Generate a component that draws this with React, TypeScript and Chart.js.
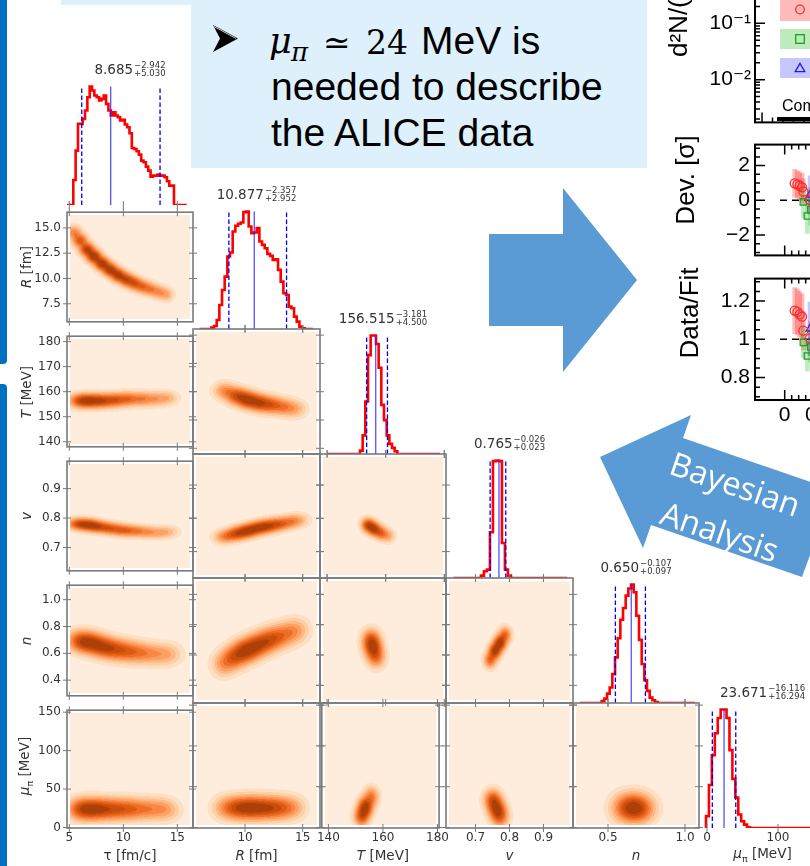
import React, { useEffect, useRef } from "react";
import { Chart, registerables } from "chart.js";

Chart.register(...registerables);

/* ===================== DATA ===================== */

// corner plot: axis ranges in data units (columns = x, rows = y)
const tauXRange = [4.787, 16.45];
const rXRange = [5.49, 16.5];
const tXRange = [137.58, 180.58];
const vXRange = [0.6132, 0.9868];
const nXRange = [0.2727, 1.091];
const muXRange = [-11.27, 167.6];
const rYRange = [5.72, 16.55];
const tYRange = [137.99, 182.16];
const vYRange = [0.6207, 0.9931];
const nYRange = [0.2832, 1.108];
const muYRange = [-0.61, 152.6];

// tick values / labels
const tauXTicks = [5, 10, 15];
const tauXLabels = ["5", "10", "15"];
const rXTicks = [10, 15];
const rXLabels = ["10", "15"];
const rYTicks = [7.5, 10, 12.5, 15];
const rYLabels = ["7.5", "10.0", "12.5", "15.0"];
const tXTicks = [140, 160, 180];
const tXLabels = ["140", "160", "180"];
const tYTicks = [140, 150, 160, 170, 180];
const tYLabels = ["140", "150", "160", "170", "180"];
const vTicks = [0.7, 0.8, 0.9];
const vLabels = ["0.7", "0.8", "0.9"];
const nXTicks = [0.5, 1.0];
const nXLabels = ["0.5", "1.0"];
const nYTicks = [0.4, 0.6, 0.8, 1.0];
const nYLabels = ["0.4", "0.6", "0.8", "1.0"];
const muXTicks = [0, 100];
const muXLabels = ["0", "100"];
const muYTicks = [0, 50, 100, 150];
const muYLabels = ["0", "50", "100", "150"];

// 1D posteriors: [first bin edge, bin width], counts, extent of the flat line, [lower, median, upper]
const tauBins = [5.37, 0.2167];
const tauCounts = [75, 163, 243, 243, 258, 283, 323, 355, 343, 328, 323, 313, 318, 328, 303, 283, 268, 278, 268, 263, 253, 255, 241, 233, 215, 171, 168, 161, 151, 133, 128, 115, 103, 85, 88, 88, 91, 88, 88, 83, 71, 58, 58];
const tauSpan = [4.79, 15.87];
const tauQ = [6.15, 8.83, 13.4];

const rBins = [7.08, 0.2313];
const rCounts = [4, 9, 27, 72, 117, 157, 217, 229, 292, 309, 315, 319, 350, 352, 307, 287, 289, 302, 262, 252, 242, 225, 219, 207, 209, 177, 142, 107, 102, 67, 62, 37, 22, 7, 2];
const rSpan = [6.07, 15.9];
const rQ = [8.6, 10.8, 13.6];

const tBins = [151.23, 0.91];
const tCounts = [10, 55, 155, 292, 350, 350, 325, 255, 145, 100, 55, 30, 18, 8];
const tSpan = [140.0, 178.5];
const tQ = [153.5, 156.6, 160.6];

const vBins = [0.716, 0.00882];
const vCounts = [7, 20, 25, 137, 350, 352, 350, 105, 25, 7];
const vSpan = [0.635, 0.97];
const vQ = [0.743, 0.769, 0.789];

const nBins = [0.459, 0.01732];
const nCounts = [6, 13, 28, 46, 86, 136, 193, 248, 283, 320, 341, 353, 330, 260, 188, 116, 68, 36, 16, 8, 3];
const nSpan = [0.318, 1.065];
const nQ = [0.548, 0.651, 0.743];

const muBins = [-1.4, 4.13];
const muCounts = [35, 127, 215, 280, 325, 350, 350, 325, 230, 145, 90, 40, 20, 10, 2];
const muSpan = [-1.4, 167.6];
const muQ = [7.5, 24.0, 40.5];

// titles: value, minus, plus
const tauTitle = ["8.685", "\u22122.942", "+5.030"];
const rTitle = ["10.877", "\u22122.357", "+2.952"];
const tTitle = ["156.515", "\u22123.181", "+4.500"];
const vTitle = ["0.765", "\u22120.026", "+0.023"];
const nTitle = ["0.650", "\u22120.107", "+0.097"];
const muTitle = ["23.671", "\u221216.116", "+16.294"];

// 2D posteriors: density lobes [x, y, weight] and lobe spread [sx, sy] (data units)
const tauR = [[5.44, 14.54, 0.35], [5.99, 13.76, 0.6], [6.64, 12.88, 0.85], [7.29, 12.18, 1], [8.03, 11.48, 0.95], [8.77, 10.87, 0.9], [9.51, 10.35, 0.85], [10.25, 9.91, 0.7], [10.99, 9.56, 0.62], [11.73, 9.21, 0.45], [12.47, 8.95, 0.35], [13.21, 8.69, 0.27], [13.95, 8.43, 0.22]];
const tauRSig = [0.4, 0.38];
const tauT = [[5.99, 156.4, 0.8], [6.92, 156.4, 1], [8.03, 156.4, 0.9], [9.23, 156.7, 0.75], [10.44, 157.1, 0.6], [11.73, 157.1, 0.45], [12.94, 157.1, 0.3], [14.05, 157.4, 0.22]];
const tauTSig = [0.58, 1.6];
const rT = [[8.27, 160.25, 0.35], [9.31, 158.5, 0.75], [10.26, 157.1, 1], [11.3, 156.0, 0.85], [12.34, 155.3, 0.6], [13.38, 154.6, 0.4], [14.34, 153.9, 0.22]];
const rTSig = [0.55, 1.7];
const tauV = [[5.81, 0.78, 0.75], [6.73, 0.777, 1], [7.66, 0.771, 0.85], [8.77, 0.765, 0.7], [9.88, 0.759, 0.65], [10.99, 0.756, 0.5], [12.1, 0.753, 0.35], [13.21, 0.75, 0.25], [14.14, 0.753, 0.18]];
const tauVSig = [0.58, 0.0115];
const rV = [[8.27, 0.744, 0.4], [9.22, 0.753, 0.75], [10.17, 0.762, 1], [11.13, 0.771, 0.85], [11.99, 0.777, 0.8], [12.95, 0.783, 0.6], [13.9, 0.789, 0.35], [14.6, 0.795, 0.2]];
const rVSig = [0.55, 0.0115];
const tV = [[154.0, 0.78, 0.9], [156.0, 0.768, 1], [158.4, 0.756, 0.6], [160.8, 0.747, 0.25]];
const tVSig = [1.3, 0.0115];
const tauN = [[5.99, 0.692, 0.8], [6.92, 0.679, 1], [7.94, 0.653, 0.9], [8.95, 0.633, 0.8], [10.06, 0.62, 0.65], [11.18, 0.607, 0.5], [12.29, 0.6, 0.35], [13.4, 0.593, 0.25], [14.32, 0.593, 0.18]];
const tauNSig = [0.68, 0.045];
const rN = [[8.18, 0.541, 0.35], [9.05, 0.587, 0.7], [10.0, 0.626, 1], [10.95, 0.659, 0.9], [11.91, 0.692, 0.75], [12.86, 0.719, 0.55], [13.82, 0.745, 0.35], [14.6, 0.765, 0.2]];
const rNSig = [0.58, 0.045];
const tN = [[155.0, 0.699, 0.8], [155.7, 0.646, 1], [156.7, 0.587, 0.6]];
const tNSig = [1.75, 0.04];
const vN = [[0.743, 0.567, 0.5], [0.757, 0.626, 0.95], [0.772, 0.679, 1], [0.787, 0.732, 0.5]];
const vNSig = [0.0105, 0.03];
const tauMu = [[5.99, 24, 0.8], [6.92, 24, 1], [7.94, 24, 0.9], [9.05, 24, 0.75], [10.16, 24, 0.65], [11.27, 24, 0.5], [12.38, 24, 0.38], [13.4, 24, 0.28], [14.14, 23, 0.2]];
const tauMuSig = [0.68, 8.0];
const rMu = [[8.35, 24, 0.4], [9.31, 24, 0.8], [10.26, 24, 1], [11.21, 24, 0.9], [12.17, 24, 0.8], [13.12, 24, 0.6], [14.08, 24, 0.35]];
const rMuSig = [0.65, 8.0];
const tMu = [[152.25, 14, 0.75], [153.6, 25.1, 1], [155.7, 37.4, 0.45]];
const tMuSig = [1.55, 6.8];
const vMu = [[0.751, 33.7, 0.8], [0.763, 22.7, 1], [0.772, 12.9, 0.6]];
const vMuSig = [0.0145, 7.2];
const nMu = [[0.617, 24, 0.85], [0.669, 24, 1], [0.714, 23, 0.8]];
const nMuSig = [0.055, 9.8];

// contour levels (fraction of peak) and Oranges colours
const levelFracs = [0.012, 0.045, 0.1, 0.17, 0.26, 0.36, 0.48, 0.61, 0.76];
const levelColors = ["#feeddc", "#fde0c4", "#fdcfa6", "#fdb883", "#fca063", "#f98744", "#ef6e26", "#de5a12", "#c94c0b", "#ad3f08"];

// top-right fit panels
const ptRange = [-0.067, 1.362];
const specRange = [0.001738, 2.512];
const devRange = [-3.17, 3.21];
const ratioRange = [0.683, 1.317];
const ptMajorTicks = [0, 0.5, 1];
const ptTickLabels = ["0", "0.5", "1"];
const ptMinorTicks = [0.1, 0.2, 0.3, 0.4, 0.6, 0.7, 0.8, 0.9, 1.1, 1.2, 1.3];
const specMajorTicks = [0.01, 0.1, 1];
const specTickLabels = ["10\u207B\u00B2", "10\u207B\u00B9", "1"];
const specMinorTicks = [0.002, 0.003, 0.004, 0.005, 0.006, 0.007, 0.008, 0.009, 0.02, 0.03, 0.04, 0.05, 0.06, 0.07, 0.08, 0.09, 0.2, 0.3, 0.4, 0.5, 0.6, 0.7, 0.8, 0.9, 2];
const devMajorTicks = [-2, 0, 2];
const devTickLabels = ["\u22122", "0", "2"];
const devMinorTicks = [-3, -2.5, -1.5, -1, -0.5, 0.5, 1, 1.5, 2.5, 3];
const ratioMajorTicks = [0.8, 1, 1.2];
const ratioTickLabels = ["0.8", "1", "1.2"];
const ratioMinorTicks = [0.7, 0.75, 0.85, 0.9, 0.95, 1.05, 1.1, 1.15, 1.25, 1.3];

const ptRed = [0.143, 0.181, 0.214, 0.248, 0.267, 0.362];
const devRed = [0.98, 0.92, 0.84, 0.75, 0.5, 0.02];
const devRedErr = [0.8, 0.8, 0.8, 0.8, 0.75, 0.7];
const ratioRed = [1.15, 1.143, 1.13, 1.118, 1.045, 1.005];
const ratioRedErr = [0.12, 0.12, 0.12, 0.12, 0.1, 0.09];
const ptGreen = [0.267, 0.324, 0.371];
const devGreen = [-0.09, -0.9, -0.53];
const devGreenErr = [0.9, 1.0, 0.9];
const ratioGreen = [0.984, 0.913, 0.96];
const ratioGreenErr = [0.08, 0.08, 0.08];
const ptBlue = [0.362, 0.416];
const devBlue = [0.31, 0.06];
const devBlueErr = [1.1, 1.1];
const ratioBlue = [1.055, 1.016];
const ratioBlueErr = [0.14, 0.14];

/* ===================== STYLE / LAYOUT ===================== */

const M = 6;
const Y_AXIS_W = 55;
const X_AXIS_H = 34;
const colEdges = [67, 193, 320, 446, 573, 699, 826];
const rowEdges = [80, 205, 329, 454, 578, 703, 828];
const GRAY = "#7a7a7a";
const TXT = "#333333";
const DJ = "'DejaVu Sans', sans-serif";
const SANS = "'Liberation Sans', Arial, 'DejaVu Sans', sans-serif";
const SERIF = "'DejaVu Serif', 'Liberation Serif', serif";
const BOX = "#def0fb";
const ARROW = "#5b9bd5";

const cols = [
  { xRange: tauXRange, xTicks: tauXTicks, xLabels: tauXLabels, bins: tauBins, counts: tauCounts, span: tauSpan, q: tauQ, title: tauTitle },
  { xRange: rXRange, xTicks: rXTicks, xLabels: rXLabels, bins: rBins, counts: rCounts, span: rSpan, q: rQ, title: rTitle },
  { xRange: tXRange, xTicks: tXTicks, xLabels: tXLabels, bins: tBins, counts: tCounts, span: tSpan, q: tQ, title: tTitle },
  { xRange: vXRange, xTicks: vTicks, xLabels: vLabels, bins: vBins, counts: vCounts, span: vSpan, q: vQ, title: vTitle },
  { xRange: nXRange, xTicks: nXTicks, xLabels: nXLabels, bins: nBins, counts: nCounts, span: nSpan, q: nQ, title: nTitle },
  { xRange: muXRange, xTicks: muXTicks, xLabels: muXLabels, bins: muBins, counts: muCounts, span: muSpan, q: muQ, title: muTitle },
];
const rows: any[] = [
  null,
  { yRange: rYRange, yTicks: rYTicks, yLabels: rYLabels },
  { yRange: tYRange, yTicks: tYTicks, yLabels: tYLabels },
  { yRange: vYRange, yTicks: vTicks, yLabels: vLabels },
  { yRange: nYRange, yTicks: nYTicks, yLabels: nYLabels },
  { yRange: muYRange, yTicks: muYTicks, yLabels: muYLabels },
];
const blobs2D: any = {
  "1-0": [tauR, tauRSig],
  "2-0": [tauT, tauTSig], "2-1": [rT, rTSig],
  "3-0": [tauV, tauVSig], "3-1": [rV, rVSig], "3-2": [tV, tVSig],
  "4-0": [tauN, tauNSig], "4-1": [rN, rNSig], "4-2": [tN, tNSig], "4-3": [vN, vNSig],
  "5-0": [tauMu, tauMuSig], "5-1": [rMu, rMuSig], "5-2": [tMu, tMuSig], "5-3": [vMu, vMuSig], "5-4": [nMu, nMuSig],
};

/* ===================== PLUGINS ===================== */

const levelRGB = levelColors.map((h) => {
  const n = parseInt(h.slice(1), 16);
  return [(n >> 16) & 255, (n >> 8) & 255, n & 255];
});

const densityPlugin = {
  id: "density",
  beforeDatasetsDraw(chart: any, _args: any, o: any) {
    if (!o || !o.pts) return;
    const a = chart.chartArea, xs = chart.scales.x, ys = chart.scales.y;
    const inset = 3, S = 2;
    const w = Math.round(a.right - a.left) - 2 * inset;
    const h = Math.round(a.bottom - a.top) - 2 * inset;
    if (w <= 0 || h <= 0) return;
    const W = w * S, H = h * S;
    const pts = o.pts, sx = o.sig[0], sy = o.sig[1];
    const ex = pts.map((p: number[]) => {
      const arr = new Float64Array(W);
      for (let i = 0; i < W; i++) {
        const v = xs.getValueForPixel(a.left + inset + (i + 0.5) / S);
        const d = (v - p[0]) / sx;
        arr[i] = p[2] * Math.exp(-0.5 * d * d);
      }
      return arr;
    });
    const ey = pts.map((p: number[]) => {
      const arr = new Float64Array(H);
      for (let j = 0; j < H; j++) {
        const v = ys.getValueForPixel(a.top + inset + (j + 0.5) / S);
        const d = (v - p[1]) / sy;
        arr[j] = Math.exp(-0.5 * d * d);
      }
      return arr;
    });
    const field = new Float64Array(W * H);
    let max = 0;
    for (let j = 0; j < H; j++) {
      for (let i = 0; i < W; i++) {
        let d = 0;
        for (let k = 0; k < pts.length; k++) d += ex[k][i] * ey[k][j];
        field[j * W + i] = d;
        if (d > max) max = d;
      }
    }
    const off = document.createElement("canvas");
    off.width = w;
    off.height = h;
    const octx = off.getContext("2d") as CanvasRenderingContext2D;
    const img = octx.createImageData(w, h);
    const data = img.data;
    const n = S * S;
    for (let y = 0; y < h; y++) {
      for (let x = 0; x < w; x++) {
        let r = 0, g = 0, b = 0;
        for (let sj = 0; sj < S; sj++) {
          for (let si = 0; si < S; si++) {
            const f = field[(y * S + sj) * W + x * S + si] / max;
            let lv = 0;
            while (lv < levelFracs.length && f >= levelFracs[lv]) lv++;
            const c = levelRGB[lv];
            r += c[0]; g += c[1]; b += c[2];
          }
        }
        const q = (y * w + x) * 4;
        data[q] = r / n; data[q + 1] = g / n; data[q + 2] = b / n; data[q + 3] = 255;
      }
    }
    octx.putImageData(img, 0, 0);
    chart.ctx.drawImage(off, a.left + inset, a.top + inset);
  },
};

const framePlugin = {
  id: "frame",
  afterDraw(chart: any, _args: any, o: any) {
    if (!o || !o.color) return;
    const { ctx, chartArea: a, scales } = chart;
    ctx.save();
    ctx.strokeStyle = o.color;
    if (o.box) {
      ctx.lineWidth = o.lw;
      ctx.strokeRect(a.left, a.top, a.right - a.left, a.bottom - a.top);
    }
    ctx.lineWidth = o.tickLw;
    ctx.beginPath();
    const sides: string[] = o.sides || [];
    const addX = (vals: number[], inL: number, outL: number) => {
      for (const v of vals || []) {
        const p = scales.x.getPixelForValue(v);
        if (p < a.left - 0.5 || p > a.right + 0.5) continue;
        if (sides.includes("bottom")) { ctx.moveTo(p, a.bottom + outL); ctx.lineTo(p, a.bottom - inL); }
        if (sides.includes("top")) { ctx.moveTo(p, a.top - outL); ctx.lineTo(p, a.top + inL); }
      }
    };
    const addY = (vals: number[], inL: number, outL: number) => {
      for (const v of vals || []) {
        const p = scales.y.getPixelForValue(v);
        if (p < a.top - 0.5 || p > a.bottom + 0.5) continue;
        if (sides.includes("left")) { ctx.moveTo(a.left - outL, p); ctx.lineTo(a.left + inL, p); }
        if (sides.includes("right")) { ctx.moveTo(a.right + outL, p); ctx.lineTo(a.right - inL, p); }
      }
    };
    addX(o.xTicks, o.inLen, o.outLen);
    addX(o.xMinor, o.minorIn || 0, o.minorOut || 0);
    addY(o.yTicks, o.inLen, o.outLen);
    addY(o.yMinor, o.minorIn || 0, o.minorOut || 0);
    ctx.stroke();
    ctx.restore();
  },
};

/* ===================== CONFIG BUILDERS ===================== */

function hiddenAxis(range: number[], type = "linear") {
  return { type, display: false, min: range[0], max: range[1], bounds: "data" };
}

function labeledAxis(range: number[], ticks: number[], labels: string[], size: number, font: any, color: string, pad: number, type = "linear") {
  return {
    type, display: true, min: range[0], max: range[1], bounds: "data",
    afterBuildTicks: (s: any) => { s.ticks = ticks.map((v) => ({ value: v })); },
    afterFit: (s: any) => { if (s.isHorizontal()) s.height = size; else s.width = size; },
    ticks: {
      autoSkip: false, maxRotation: 0, minRotation: 0, padding: pad, font, color,
      callback: (v: number) => {
        const i = ticks.findIndex((t) => Math.abs(t - v) < 1e-9 * Math.max(1, Math.abs(t)));
        return i >= 0 ? labels[i] : "";
      },
    },
    grid: { display: false, drawTicks: false },
    border: { display: false },
  };
}

function baseConfig() {
  return {
    type: "scatter",
    data: { datasets: [] as any[] },
    options: {
      responsive: false, animation: false, events: [], devicePixelRatio: 1,
      layout: { padding: { left: M, right: M, top: M, bottom: M } },
      plugins: { legend: { display: false }, tooltip: { enabled: false } } as any,
      scales: {} as any,
    },
    plugins: [densityPlugin, framePlugin],
  } as any;
}

const cornerTickFont = { family: DJ, size: 12 };

function cornerGeom(r: number, c: number) {
  const ax = colEdges[c], aw = colEdges[c + 1] - ax, ay = rowEdges[r], ah = rowEdges[r + 1] - ay;
  const showY = c === 0 && r > 0, showX = r === 5;
  const yw = showY ? Y_AXIS_W : 0, xh = showX ? X_AXIS_H : 0;
  return { left: ax - M - yw, top: ay - M, width: aw + 2 * M + yw, height: ah + 2 * M + xh, showX, showY };
}

function cornerConfig(r: number, c: number, g: any) {
  const col = cols[c];
  const cfg = baseConfig();
  cfg.options.scales.x = g.showX
    ? labeledAxis(col.xRange, col.xTicks, col.xLabels, X_AXIS_H, cornerTickFont, TXT, 3)
    : hiddenAxis(col.xRange);
  if (r === c) {
    const peak = Math.max(...col.counts);
    cfg.options.scales.y = hiddenAxis([0, peak * 1.055]);
    const [b0, bw] = col.bins;
    const pts = [
      { x: col.span[0], y: 0 },
      ...col.counts.map((v: number, i: number) => ({ x: b0 + i * bw, y: v })),
      { x: b0 + col.counts.length * bw, y: 0 },
      { x: col.span[1], y: 0 },
    ];
    const vline = (q: number, dashed: boolean) => ({
      data: [{ x: q, y: 0 }, { x: q, y: peak }],
      showLine: true, pointRadius: 0,
      borderColor: dashed ? "#0000ff" : "rgba(40,40,255,0.8)",
      borderWidth: 1.3, borderDash: dashed ? [4.5, 2.5] : [],
    });
    cfg.data.datasets = [
      vline(col.q[0], true), vline(col.q[1], false), vline(col.q[2], true),
      { data: pts, showLine: true, stepped: true, pointRadius: 0, borderColor: "#ff0000", borderWidth: 2.6 },
    ];
    cfg.options.plugins.frame = { color: GRAY, tickLw: 1, sides: ["bottom"], xTicks: col.xTicks, inLen: 4, outLen: 4 };
  } else {
    const row = rows[r];
    cfg.options.scales.y = g.showY
      ? labeledAxis(row.yRange, row.yTicks, row.yLabels, Y_AXIS_W, cornerTickFont, TXT, 6)
      : hiddenAxis(row.yRange);
    const b = blobs2D[`${r}-${c}`];
    cfg.options.plugins.density = { pts: b[0], sig: b[1] };
    cfg.options.plugins.frame = {
      color: GRAY, lw: 1.6, box: true, tickLw: 1, sides: ["left", "right", "top", "bottom"],
      xTicks: col.xTicks, yTicks: row.yTicks, inLen: 4, outLen: 4,
    };
  }
  return cfg;
}

// top-right fit panels
const TR_LEFT = 755, TR_W = 150, TR_YW = 62, TR_XH = 30;
const trFont = { family: SANS, size: 21 };

const markerDs = (xs: number[], ys: number[], color: string, style: string) => ({
  type: "scatter", data: xs.map((x, i) => ({ x, y: ys[i] })), pointStyle: style,
  pointRadius: 4.5, borderColor: color, backgroundColor: "rgba(0,0,0,0)", borderWidth: 1.3,
});
const bandDs = (xs: number[], ys: number[], es: number[], color: string) => ({
  type: "bar", data: xs.map((x, i) => ({ x, y: [ys[i] - es[i], ys[i] + es[i]] })),
  backgroundColor: color, barThickness: 4, grouped: false, borderWidth: 0,
});
const dashDs = (y: number) => ({
  type: "scatter", data: [{ x: ptRange[0], y }, { x: ptRange[1], y }], showLine: true,
  pointRadius: 0, borderColor: "#000", borderWidth: 1.5, borderDash: [7, 5],
});

const RED_BAND = "rgba(255,40,40,0.32)";
const GREEN_BAND = "rgba(40,190,40,0.3)";
const BLUE_BAND = "rgba(70,70,255,0.3)";

function trConfig(kind: string) {
  const cfg = baseConfig();
  const isRatio = kind === "ratio";
  cfg.options.scales.x = isRatio
    ? labeledAxis(ptRange, ptMajorTicks, ptTickLabels, TR_XH, trFont, "#000", 3)
    : hiddenAxis(ptRange);
  let yMinor: number[] = [];
  let yMajor: number[] = [];
  if (kind === "spec") {
    cfg.options.scales.y = labeledAxis(specRange, specMajorTicks, specTickLabels, TR_YW, trFont, "#000", 4, "logarithmic");
    yMajor = specMajorTicks; yMinor = specMinorTicks;
  } else if (kind === "dev") {
    cfg.options.scales.y = labeledAxis(devRange, devMajorTicks, devTickLabels, TR_YW, trFont, "#000", 5);
    yMajor = devMajorTicks; yMinor = devMinorTicks;
    cfg.data.datasets = [
      markerDs(ptRed, devRed, "#ff2a2a", "circle"),
      markerDs(ptGreen, devGreen, "#1fa01f", "rect"),
      markerDs(ptBlue, devBlue, "#1a1aff", "triangle"),
      bandDs(ptBlue, devBlue, devBlueErr, BLUE_BAND),
      bandDs(ptGreen, devGreen, devGreenErr, GREEN_BAND),
      bandDs(ptRed, devRed, devRedErr, RED_BAND),
      dashDs(0),
    ];
  } else {
    cfg.options.scales.y = labeledAxis(ratioRange, ratioMajorTicks, ratioTickLabels, TR_YW, trFont, "#000", 5);
    yMajor = ratioMajorTicks; yMinor = ratioMinorTicks;
    cfg.data.datasets = [
      markerDs(ptRed, ratioRed, "#ff2a2a", "circle"),
      markerDs(ptGreen, ratioGreen, "#1fa01f", "rect"),
      markerDs(ptBlue, ratioBlue, "#1a1aff", "triangle"),
      bandDs(ptBlue, ratioBlue, ratioBlueErr, BLUE_BAND),
      bandDs(ptGreen, ratioGreen, ratioGreenErr, GREEN_BAND),
      bandDs(ptRed, ratioRed, ratioRedErr, RED_BAND),
      dashDs(1),
    ];
  }
  cfg.options.plugins.frame = {
    color: "#000", lw: 2, box: true, tickLw: 1.5, sides: ["left", "top", "bottom"],
    xTicks: ptMajorTicks, xMinor: ptMinorTicks, yTicks: yMajor, yMinor,
    inLen: 10, outLen: 0, minorIn: 5, minorOut: 0,
  };
  return cfg;
}

/* ===================== COMPONENTS ===================== */

function ChartCanvas({ left, top, width, height, make }: any) {
  const ref = useRef<HTMLCanvasElement | null>(null);
  useEffect(() => {
    const chart = new Chart(ref.current as HTMLCanvasElement, make());
    return () => chart.destroy();
  }, []);
  return (
    <canvas ref={ref} width={width} height={height}
      style={{ position: "absolute", left, top, width, height }} />
  );
}

function TextAt({ x, baseline, size, family, italic, children, color = "#000" }: any) {
  return (
    <span style={{
      position: "absolute", left: x, top: baseline - 0.846 * size, fontSize: size,
      lineHeight: `${size}px`, fontFamily: family, fontStyle: italic ? "italic" : "normal",
      whiteSpace: "nowrap", color,
    }}>{children}</span>
  );
}

function CText({ cx, cy, size, family, color, rotate, children }: any) {
  return (
    <div style={{
      position: "absolute", left: cx, top: cy,
      transform: `translate(-50%, -50%)${rotate ? " rotate(-90deg)" : ""}`,
      whiteSpace: "nowrap", fontSize: size, fontFamily: family, color, lineHeight: 1.2,
    }}>{children}</div>
  );
}

function HistTitle({ cx, cy, t }: any) {
  return (
    <div style={{
      position: "absolute", left: cx, top: cy, transform: "translate(-50%, -50%)",
      display: "flex", alignItems: "center", whiteSpace: "nowrap", fontFamily: DJ, color: TXT,
    }}>
      <span style={{ fontSize: 13.5, lineHeight: "15px" }}>{t[0]}</span>
      <span style={{ display: "inline-flex", flexDirection: "column", fontSize: 8.5, lineHeight: "7.5px", marginLeft: 1 }}>
        <span>{t[1]}</span>
        <span>{t[2]}</span>
      </span>
    </div>
  );
}

const yTitles = [
  null,
  <><i>R</i> [fm]</>,
  <><i>T</i> [MeV]</>,
  <i>v</i>,
  <i>n</i>,
  <><i>μ</i><sub style={{ fontSize: "70%" }}>π</sub> [MeV]</>,
];
const xTitles = [
  <>τ [fm/c]</>,
  <><i>R</i> [fm]</>,
  <><i>T</i> [MeV]</>,
  <i>v</i>,
  <i>n</i>,
  <><i>μ</i><sub style={{ fontSize: "70%" }}>π</sub> [MeV]</>,
];

export default function App() {
  const panels: any[] = [];
  for (let r = 0; r < 6; r++) {
    for (let c = 0; c <= r; c++) {
      const g = cornerGeom(r, c);
      panels.push(
        <ChartCanvas key={`p${r}-${c}`} left={g.left} top={g.top} width={g.width} height={g.height}
          make={() => cornerConfig(r, c, g)} />
      );
    }
  }
  const colCenter = (c: number) => (colEdges[c] + colEdges[c + 1]) / 2;
  const rowCenter = (r: number) => (rowEdges[r] + rowEdges[r + 1]) / 2;

  return (
    <div style={{ position: "absolute", left: 0, top: 0, width: 810, height: 866, overflow: "hidden", background: "#fff" }}>
      {/* slide text box */}
      <div style={{ position: "absolute", left: 61, top: 0, width: 130, height: 5, background: BOX }} />
      <div style={{ position: "absolute", left: 191, top: 0, width: 456, height: 168, background: BOX }} />
      <svg width={810} height={200} style={{ position: "absolute", left: 0, top: 0 }}>
        <polygon points="213,25 238,38.5 213,52 220,38.5" fill="#000" />
        <polyline points="214,26.5 236,38.5" stroke="#fff" strokeWidth={0.8} fill="none" />
      </svg>
      <TextAt x={269} baseline={54} size={35} family={SERIF} italic>μ</TextAt>
      <TextAt x={291} baseline={61} size={26} family={SERIF} italic>π</TextAt>
      <TextAt x={323} baseline={54} size={33} family={SERIF}>{"\u2243"}</TextAt>
      <TextAt x={366} baseline={54} size={33} family={SERIF}>24</TextAt>
      <TextAt x={421} baseline={54} size={39} family={SANS}>MeV is</TextAt>
      <TextAt x={271} baseline={100} size={39} family={SANS}>needed to describe</TextAt>
      <TextAt x={271} baseline={146} size={39} family={SANS}>the ALICE data</TextAt>

      {/* corner plot */}
      {panels}
      {cols.map((col, k) => (
        <HistTitle key={`t${k}`} cx={colCenter(k)} cy={rowEdges[k] - 11} t={col.title} />
      ))}
      {yTitles.map((t, r) => t ? (
        <CText key={`yt${r}`} cx={26} cy={rowCenter(r)} size={13.5} family={DJ} color={TXT} rotate>{t}</CText>
      ) : null)}
      {xTitles.map((t, c) => (
        <CText key={`xt${c}`} cx={colCenter(c)} cy={855} size={13.5} family={DJ} color={TXT}>{t}</CText>
      ))}

      {/* top-right fit panels */}
      <ChartCanvas left={TR_LEFT - M - TR_YW} top={-66 - M} width={TR_YW + TR_W + 2 * M} height={199 + 2 * M} make={() => trConfig("spec")} />
      <ChartCanvas left={TR_LEFT - M - TR_YW} top={133 - M} width={TR_YW + TR_W + 2 * M} height={134 + 2 * M} make={() => trConfig("dev")} />
      <ChartCanvas left={TR_LEFT - M - TR_YW} top={267 - M} width={TR_YW + TR_W + 2 * M} height={133 + 2 * M + TR_XH} make={() => trConfig("ratio")} />
      <div style={{
        position: "absolute", left: 663, top: 57, height: 30, lineHeight: "30px", transformOrigin: "0 0",
        transform: "rotate(-90deg)", whiteSpace: "nowrap", fontSize: 26, fontFamily: SANS, color: "#000",
      }}>d²N/(dp<sub style={{ fontSize: "65%" }}>T</sub>dy) [(GeV/c)⁻¹]</div>
      <CText cx={686} cy={180} size={26} family={SANS} color="#000" rotate>Dev. [σ]</CText>
      <CText cx={690} cy={313} size={26} family={SANS} color="#000" rotate>Data/Fit</CText>
      {/* legend entries */}
      <div style={{ position: "absolute", left: 780, top: -1, width: 40, height: 21.5, background: RED_BAND }} />
      <div style={{ position: "absolute", left: 780, top: 28.5, width: 40, height: 20, background: GREEN_BAND }} />
      <div style={{ position: "absolute", left: 780, top: 57.5, width: 40, height: 20.5, background: BLUE_BAND }} />
      <svg width={810} height={866} style={{ position: "absolute", left: 0, top: 0 }}>
        <circle cx={800} cy={9.5} r={4.3} fill="none" stroke="#ff2a2a" strokeWidth={1.3} />
        <rect x={795.7} y={34.7} width={8.6} height={8.6} fill="none" stroke="#1fa01f" strokeWidth={1.3} />
        <polygon points="800,63.3 804.8,71.6 795.2,71.6" fill="none" stroke="#1a1aff" strokeWidth={1.3} />
      </svg>
      <TextAt x={782} baseline={112} size={16} family={SANS}>Combined fit</TextAt>
      <div style={{ position: "absolute", left: 777, top: 117, width: 40, height: 3.5, background: "#000" }} />

      {/* arrows */}
      <svg width={810} height={866} style={{ position: "absolute", left: 0, top: 0 }}>
        <polygon points="489,234 563,234 563,188 637,280 563,372 563,326 489,326" fill={ARROW} />
        <polygon points="600,457 691,415 683,438 834,490 802,577 651,525 643,548" fill={ARROW} />
        <text x={735.5} y={483.5} fill="#fff" fontFamily="'Open Sans', sans-serif" fontSize={32.5}
          textAnchor="middle" dominantBaseline="central" transform="rotate(19 735.5 483.5)">Bayesian</text>
        <text x={720} y={531} fill="#fff" fontFamily="'Open Sans', sans-serif" fontSize={32.5}
          textAnchor="middle" dominantBaseline="central" transform="rotate(19 720 531)">Analysis</text>
      </svg>

      {/* left slide bars */}
      <div style={{ position: "absolute", left: 0, top: 0, width: 7, height: 364, background: "#0070c0", borderBottomRightRadius: 4 }} />
      <div style={{ position: "absolute", left: 0, top: 384, width: 7, height: 482, background: "#0070c0", borderTopRightRadius: 4 }} />
    </div>
  );
}
